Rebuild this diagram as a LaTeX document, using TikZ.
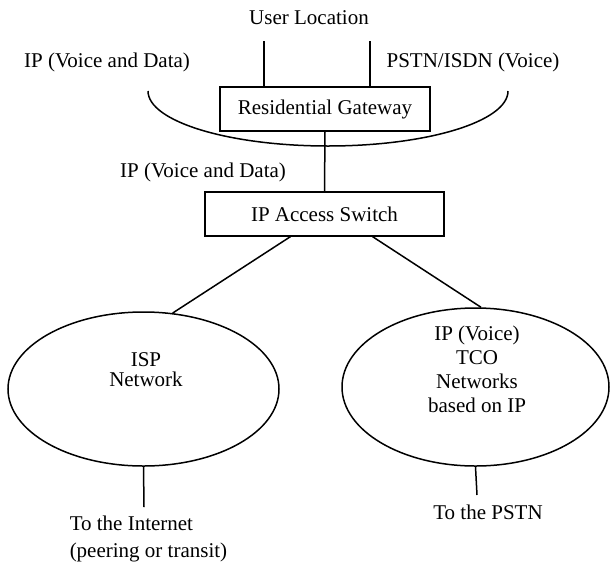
\documentclass[tikz,border=0pt]{standalone}
\usepackage{fontspec}
\setmainfont{Liberation Serif}
\usetikzlibrary{shapes.geometric,positioning}

\begin{document}
\begin{tikzpicture}[x=1pt,y=-1pt,line width=1.5pt,
    every node/.style={font=\fontsize{21}{24}\selectfont,inner sep=0pt},
    box/.style={draw,rectangle,line width=1.2pt,minimum height=44pt},
    net/.style={draw,ellipse,inner sep=0pt}]
  \useasboundingbox (0,0) rectangle (610,563);
  % Define points
  \coordinate (u1) at (264,41);
  \coordinate (u2) at (370,41);
  \coordinate (iend) at (144,507);
  \coordinate (pend) at (477,495);
  % Boxes
  \node[box,minimum width=210pt] (gateway) at (325,109) {Residential Gateway};
  \node[box,minimum width=239pt] (switch) at (324.5,214) {IP Access Switch};
  % Networks
  \node[net,minimum width=271pt,minimum height=154pt] (isp) at (143.5,389) {};
  \node[net,minimum width=267pt,minimum height=158pt] (tco) at (475.5,387) {};
  \node[align=center,font=\fontsize{21}{20}\selectfont] (isptext) at (146,370) {ISP\\Network};
  \node[align=center] (tcotext) at (477,369) {IP (Voice)\\TCO\\Networks\\based on IP};
  % Labels
  \node (user) at (309,18) {User Location};
  \node (ipleft) at (107,62) {IP (Voice and Data)};
  \node (pstn) at (473,62) {PSTN/ISDN (Voice)};
  \node (ipmid) at (203,172) {IP (Voice and Data)};
  \node[align=left,anchor=west,font=\fontsize{21}{27}\selectfont] (internet) at (69,539) {To the Internet\\(peering or transit)};
  \node (topstn) at (488,512) {To the PSTN};
  % Connectors
  \draw (u1) -- (u1 |- gateway.north);
  \draw (u2) -- (u2 |- gateway.north);
  \draw (148,91) arc[start angle=180,end angle=0,x radius=180,y radius=55];
  \draw (gateway.south) -- (switch.north);
  \draw ([xshift=-34pt]switch.south) -- (isp.69);
  \draw ([xshift=48pt]switch.south) -- (tco.86);
  \draw (isp.south) -- (iend);
  \draw (tco.south) -- (pend);
\end{tikzpicture}
\end{document}
